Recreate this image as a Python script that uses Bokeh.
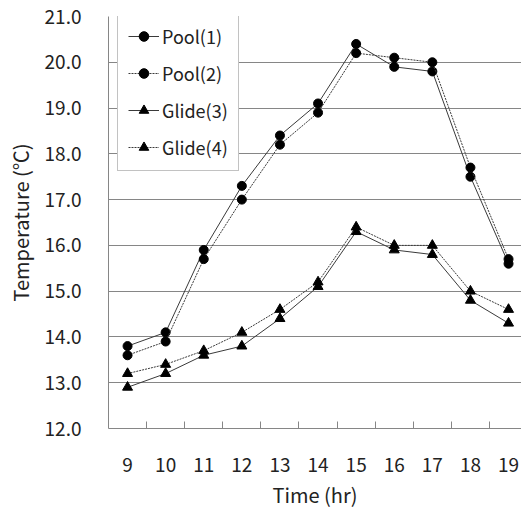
from bokeh.plotting import figure
from bokeh.models import FixedTicker, Legend, LegendItem, Range1d, CustomJSTickFormatter
from bokeh.embed import file_html
from bokeh.resources import INLINE

hours = [9, 10, 11, 12, 13, 14, 15, 16, 17, 18, 19]
pool1 = [13.8, 14.1, 15.9, 17.3, 18.4, 19.1, 20.4, 19.9, 19.8, 17.5, 15.6]
pool2 = [13.6, 13.9, 15.7, 17.0, 18.2, 18.9, 20.2, 20.1, 20.0, 17.7, 15.7]
glide3 = [12.9, 13.2, 13.6, 13.8, 14.4, 15.1, 16.3, 15.9, 15.8, 14.8, 14.3]
glide4 = [13.2, 13.4, 13.7, 14.1, 14.6, 15.2, 16.4, 16.0, 16.0, 15.0, 14.6]
y_ticks = [12, 13, 14, 15, 16, 17, 18, 19, 20, 21]
x_boundaries = [9.5, 10.5, 11.5, 12.5, 13.5, 14.5, 15.5, 16.5, 17.5, 18.5]

FONT = "Noto Sans CJK KR"
GRID = "#868686"
TEXT = "#222222"

p = figure(width=521, height=511, output_backend="svg", toolbar_location=None,
           x_range=Range1d(8.5, 19.34), y_range=Range1d(12, 21),
           min_border_left=108, min_border_right=0, min_border_top=16, min_border_bottom=82)
p.outline_line_color = None
p.background_fill_color = "white"

# x axis
p.xaxis.ticker = FixedTicker(ticks=hours, minor_ticks=x_boundaries)
p.xaxis.major_tick_in = 0
p.xaxis.major_tick_out = 0
p.xaxis.minor_tick_in = 7
p.xaxis.minor_tick_out = 0
p.xaxis.minor_tick_line_color = GRID
p.xaxis.axis_line_color = GRID
p.xaxis.major_label_standoff = 29
p.xaxis.major_label_text_font = FONT
p.xaxis.major_label_text_font_size = "19px"
p.xaxis.major_label_text_color = TEXT
p.xaxis.axis_label = "Time (hr)"
p.xaxis.axis_label_text_font = FONT
p.xaxis.axis_label_text_font_size = "20px"
p.xaxis.axis_label_text_font_style = "normal"
p.xaxis.axis_label_text_color = TEXT
p.xaxis.axis_label_standoff = 5

# y axis
p.yaxis.ticker = FixedTicker(ticks=y_ticks)
p.yaxis.formatter = CustomJSTickFormatter(code="return tick.toFixed(1);")
p.yaxis.major_tick_in = 0
p.yaxis.major_tick_out = 0
p.yaxis.minor_tick_line_color = None
p.yaxis.axis_line_color = GRID
p.yaxis.major_label_standoff = 27
p.yaxis.major_label_text_font = FONT
p.yaxis.major_label_text_font_size = "19px"
p.yaxis.major_label_text_color = TEXT
p.yaxis.axis_label = "Temperature (℃)"
p.yaxis.axis_label_text_font = FONT
p.yaxis.axis_label_text_font_size = "20px"
p.yaxis.axis_label_text_font_style = "normal"
p.yaxis.axis_label_text_color = TEXT
p.yaxis.axis_label_standoff = 7

p.xgrid.grid_line_color = None
p.ygrid.ticker = FixedTicker(ticks=y_ticks[1:])
p.ygrid.grid_line_color = GRID
p.ygrid.grid_line_width = 1

LINE = "#3a3a3a"
series = [
    ("Pool(1)", pool1, "circle", None, 9),
    ("Pool(2)", pool2, "circle", "2 1", 9),
    ("Glide(3)", glide3, "triangle", None, 10),
    ("Glide(4)", glide4, "triangle", "2 1", 10),
]
items = []
for name, ys, marker, dash, size in series:
    kw = {}
    if dash:
        kw["line_dash"] = dash
    lr = p.line(hours, ys, line_color=LINE, line_width=1, **kw)
    sr = p.scatter(hours, ys, marker=marker, size=size, fill_color="black", line_color="black")
    items.append(LegendItem(label=name, renderers=[lr, sr]))

legend = Legend(items=items, location=(9, 257))
legend.border_line_color = GRID
legend.border_line_width = 1
legend.background_fill_color = "white"
legend.background_fill_alpha = 1
legend.label_text_font = FONT
legend.label_text_font_size = "18px"
legend.label_text_color = TEXT
legend.glyph_width = 31
legend.glyph_height = 24
legend.label_height = 24
legend.label_standoff = 3
legend.spacing = 11
legend.padding = 10
legend.margin = 0
p.add_layout(legend, "center")

open("out.html", "w").write(file_html(p, INLINE))
